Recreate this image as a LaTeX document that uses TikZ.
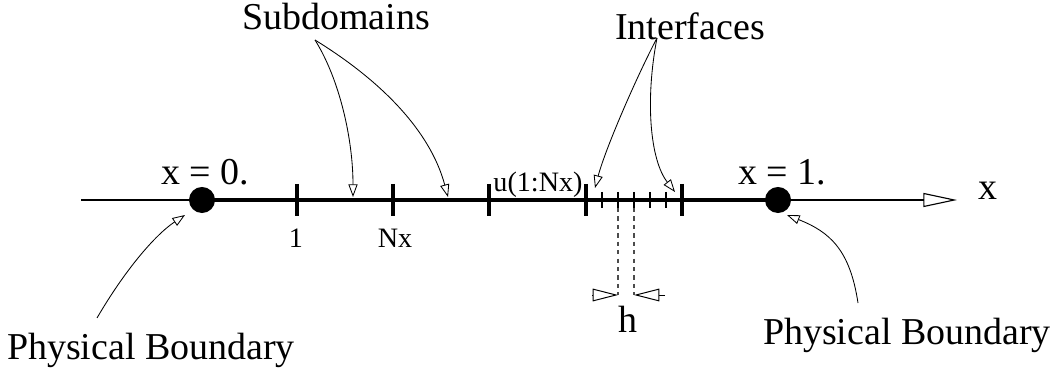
\documentclass[tikz,border=0pt]{standalone}
\usepackage{fontspec}
\setmainfont{Liberation Serif}
\usetikzlibrary{arrows.meta, positioning}

\begin{document}
\begin{tikzpicture}[x=0.025cm, y=-0.025cm,
    big/.style={font=\fontsize{27}{30}\selectfont, inner sep=0pt, anchor=base},
    small/.style={font=\fontsize{20}{22}\selectfont, inner sep=0pt, anchor=base},
    leader/.style={line width=0.6pt, -{Triangle[open, length=9pt, width=6.5pt]}},
    dot/.style={circle, fill=black, minimum size=18.5pt, inner sep=0pt}]
    \useasboundingbox (0,0) rectangle (1058,372);

    % Axis
    \coordinate (Start) at (81,200);
    \coordinate (End) at (957,200);
    \node (Left) [dot] at (202,200) {};
    \node (Right) [dot] at (778,200) {};
    \draw [line width=0.8pt, -{Triangle[open, length=24pt, width=10pt]}] (Start) -- (End);
    \draw [line width=2.6pt] (Left.center) -- (Right.center);

    % Ticks
    \foreach \x in {297,393,489,586,682}
        \draw [line width=2.4pt] (\x,184) -- (\x,216);
    \foreach \x in {602,618,634,650,666}
        \draw [line width=1.2pt] (\x,192) -- (\x,208);
    \foreach \x in {618,634}
        \draw [gray!60!black, dashed, line width=1pt] (\x,208) -- (\x,295);

    % Mesh size
    \coordinate (HL) at (592,295);
    \coordinate (HLtip) at (618,295);
    \coordinate (HR) at (665,295);
    \coordinate (HRtip) at (634,295);
    \draw [line width=0.7pt, -{Triangle[open, length=18pt, width=9pt]}] (HL) -- (HLtip);
    \draw [line width=0.7pt, -{Triangle[open, length=18pt, width=9pt]}] (HR) -- (HRtip);

    % Labels
    \node (X0) [big] at (205,185) {x = 0.};
    \node (X1) [big] at (782,185) {x = 1.};
    \node (XAxis) [big] at (988,200) {x};
    \node (One) [small] at (296,248) {1};
    \node (Nx) [small] at (395,248) {Nx};
    \node (U) [small] at (538,192) {u(1:Nx)};
    \node (H) [big] at (628,333) {h};
    \node (Sub) [big] at (336,30) {Subdomains};
    \node (Int) [big] at (690,40) {Interfaces};
    \node (PBL) [big] at (151,360) {Physical Boundary};
    \node (PBR) [big] at (907,345) {Physical Boundary};

    % Leaders
    \coordinate (SubFrom) at (315,40);
    \coordinate (SubA) at (353,197);
    \coordinate (SubB) at (448,197);
    \coordinate (IntFrom) at (657,38);
    \coordinate (IntA) at (595,188);
    \coordinate (IntB) at (675,192);
    \coordinate (PBLFrom) at (97,318);
    \coordinate (PBLTip) at (185,215);
    \coordinate (PBRFrom) at (858,303);
    \coordinate (PBRTip) at (787,215);
    \draw [leader] (SubFrom) .. controls (340,80) and (353,140) .. (SubA);
    \draw [leader] (SubFrom) .. controls (380,80) and (430,130) .. (SubB);
    \draw [leader] (IntFrom) .. controls (635,80) and (605,150) .. (IntA);
    \draw [leader] (IntFrom) .. controls (645,100) and (650,160) .. (IntB);
    \draw [leader] (PBLFrom) .. controls (125,270) and (155,235) .. (PBLTip);
    \draw [leader] (PBRFrom) .. controls (850,250) and (830,232) .. (PBRTip);
\end{tikzpicture}
\end{document}
